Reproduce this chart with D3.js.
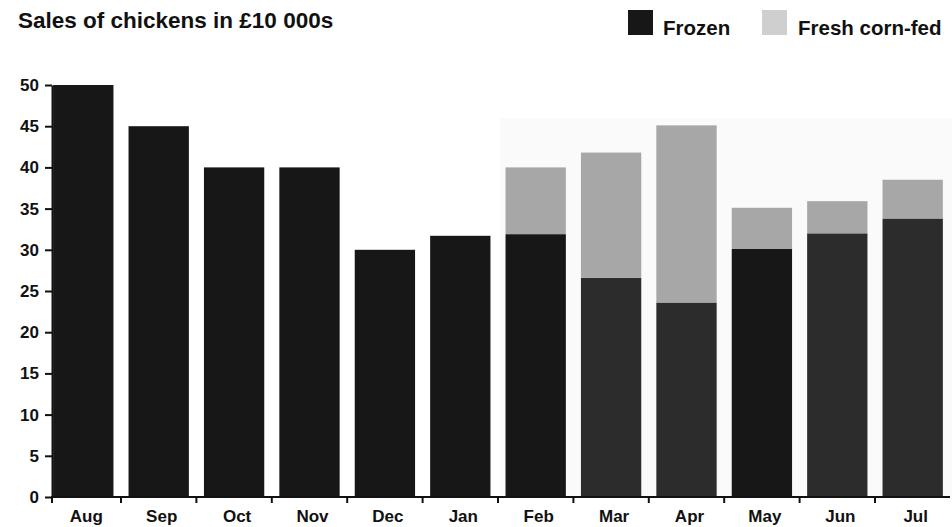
<!DOCTYPE html>
<html>
<head>
<meta charset="utf-8">
<script src="https://cdn.jsdelivr.net/npm/d3@7"></script>
<style>
  html, body { margin: 0; padding: 0; background: #fff; }
  svg { display: block; font-family: "Liberation Sans", Arial, Helvetica, sans-serif; }
</style>
</head>
<body>
<svg id="chart" width="952" height="527"></svg>
<script>
// ---- data ----
const months = ["Aug","Sep","Oct","Nov","Dec","Jan","Feb","Mar","Apr","May","Jun","Jul"];
const frozen = [50, 45, 40, 40, 30, 31.7, 31.9, 26.6, 23.6, 30.1, 32.0, 33.8];
const freshCornFed = [0, 0, 0, 0, 0, 0, 8.1, 15.2, 21.5, 5.0, 3.9, 4.7];
const yTicks = [0, 5, 10, 15, 20, 25, 30, 35, 40, 45, 50];
const seriesNames = ["Frozen", "Fresh corn-fed"];
const titleText = "Sales of chickens in £10 000s";
// months printed with a slightly lighter frozen tone
const lighterMonths = ["Mar","Apr","Jun","Jul"];

// ---- layout ----
const svg = d3.select("#chart");
const axisX0 = 52;
const y = d3.scaleLinear().domain([0, 50]).range([497, 85]);
const x = d3.scaleBand().domain(months).range([45.6, 950.4]).paddingInner(0.2).paddingOuter(0.1);
const step = x.step(), bw = x.bandwidth();
const gapHalf = (step - bw) / 2;

// faint print background behind later months
const bgX = x("Feb") - gapHalf + 2;
svg.append("rect")
  .attr("x", bgX).attr("y", 118)
  .attr("width", 952 - bgX).attr("height", y(0) - 118)
  .attr("fill", "#fafafa");

// stacked data
const rows = months.map((m, i) => ({ month: m, frozen: frozen[i], fresh: freshCornFed[i] }));
const stack = d3.stack().keys(["frozen", "fresh"])(rows);
const colors = { frozen: "#171717", fresh: "#a7a7a7" };

svg.append("g").selectAll("g").data(stack).join("g")
  .selectAll("rect").data(s => s.map(d => ({ key: s.key, d })))
  .join("rect")
  .filter(o => o.d[1] - o.d[0] > 0)
  .attr("x", o => x(o.d.data.month))
  .attr("width", bw)
  .attr("y", o => y(o.d[1]))
  .attr("height", o => y(o.d[0]) - y(o.d[1]))
  .attr("fill", o => o.key === "frozen"
      ? (lighterMonths.includes(o.d.data.month) ? "#2c2c2c" : colors.frozen)
      : colors.fresh);

// y axis
const yAxis = svg.append("g")
  .attr("transform", `translate(${axisX0},0)`)
  .call(d3.axisLeft(y).tickValues(yTicks).tickSize(7).tickPadding(6).tickSizeOuter(0));
yAxis.select(".domain").attr("stroke", "#111").attr("stroke-width", 2);
yAxis.selectAll(".tick line").attr("stroke", "#111").attr("stroke-width", 2);
yAxis.selectAll(".tick text").attr("font-size", 17).attr("font-weight", "bold").attr("fill", "#111");

// x axis
const xAxis = svg.append("g")
  .attr("transform", `translate(0,${y(0)})`)
  .call(d3.axisBottom(x).tickSize(0).tickPadding(12.5).tickSizeOuter(0));
xAxis.select(".domain").remove();
xAxis.selectAll(".tick text").attr("font-size", 17).attr("font-weight", "bold").attr("fill", "#111")
  .attr("dx", 3);
svg.append("line")
  .attr("x1", axisX0 - 1).attr("x2", 950).attr("y1", y(0)).attr("y2", y(0))
  .attr("stroke", "#111").attr("stroke-width", 2);
// boundary ticks between months
const boundaries = [axisX0].concat(months.slice(1).map(m => x(m) - gapHalf));
svg.append("g").selectAll("line").data(boundaries).join("line")
  .attr("x1", d => d).attr("x2", d => d)
  .attr("y1", y(0)).attr("y2", y(0) + 6)
  .attr("stroke", "#111").attr("stroke-width", 2);

// title
svg.append("text").attr("x", 18).attr("y", 28)
  .attr("font-size", 22.5).attr("font-weight", "bold").attr("fill", "#111")
  .text(titleText);

// legend
const legend = [
  { name: seriesNames[0], fill: colors.frozen, sx: 628, tx: 663 },
  { name: seriesNames[1], fill: "#cfcfcf", sx: 762, tx: 798 }
];
const lg = svg.append("g").selectAll("g").data(legend).join("g");
lg.append("rect").attr("x", d => d.sx).attr("y", 10).attr("width", 25).attr("height", 25).attr("fill", d => d.fill);
lg.append("text").attr("x", d => d.tx).attr("y", 35)
  .attr("font-size", 20.5).attr("font-weight", "bold").attr("fill", "#111")
  .text(d => d.name);
</script>
</body>
</html>
